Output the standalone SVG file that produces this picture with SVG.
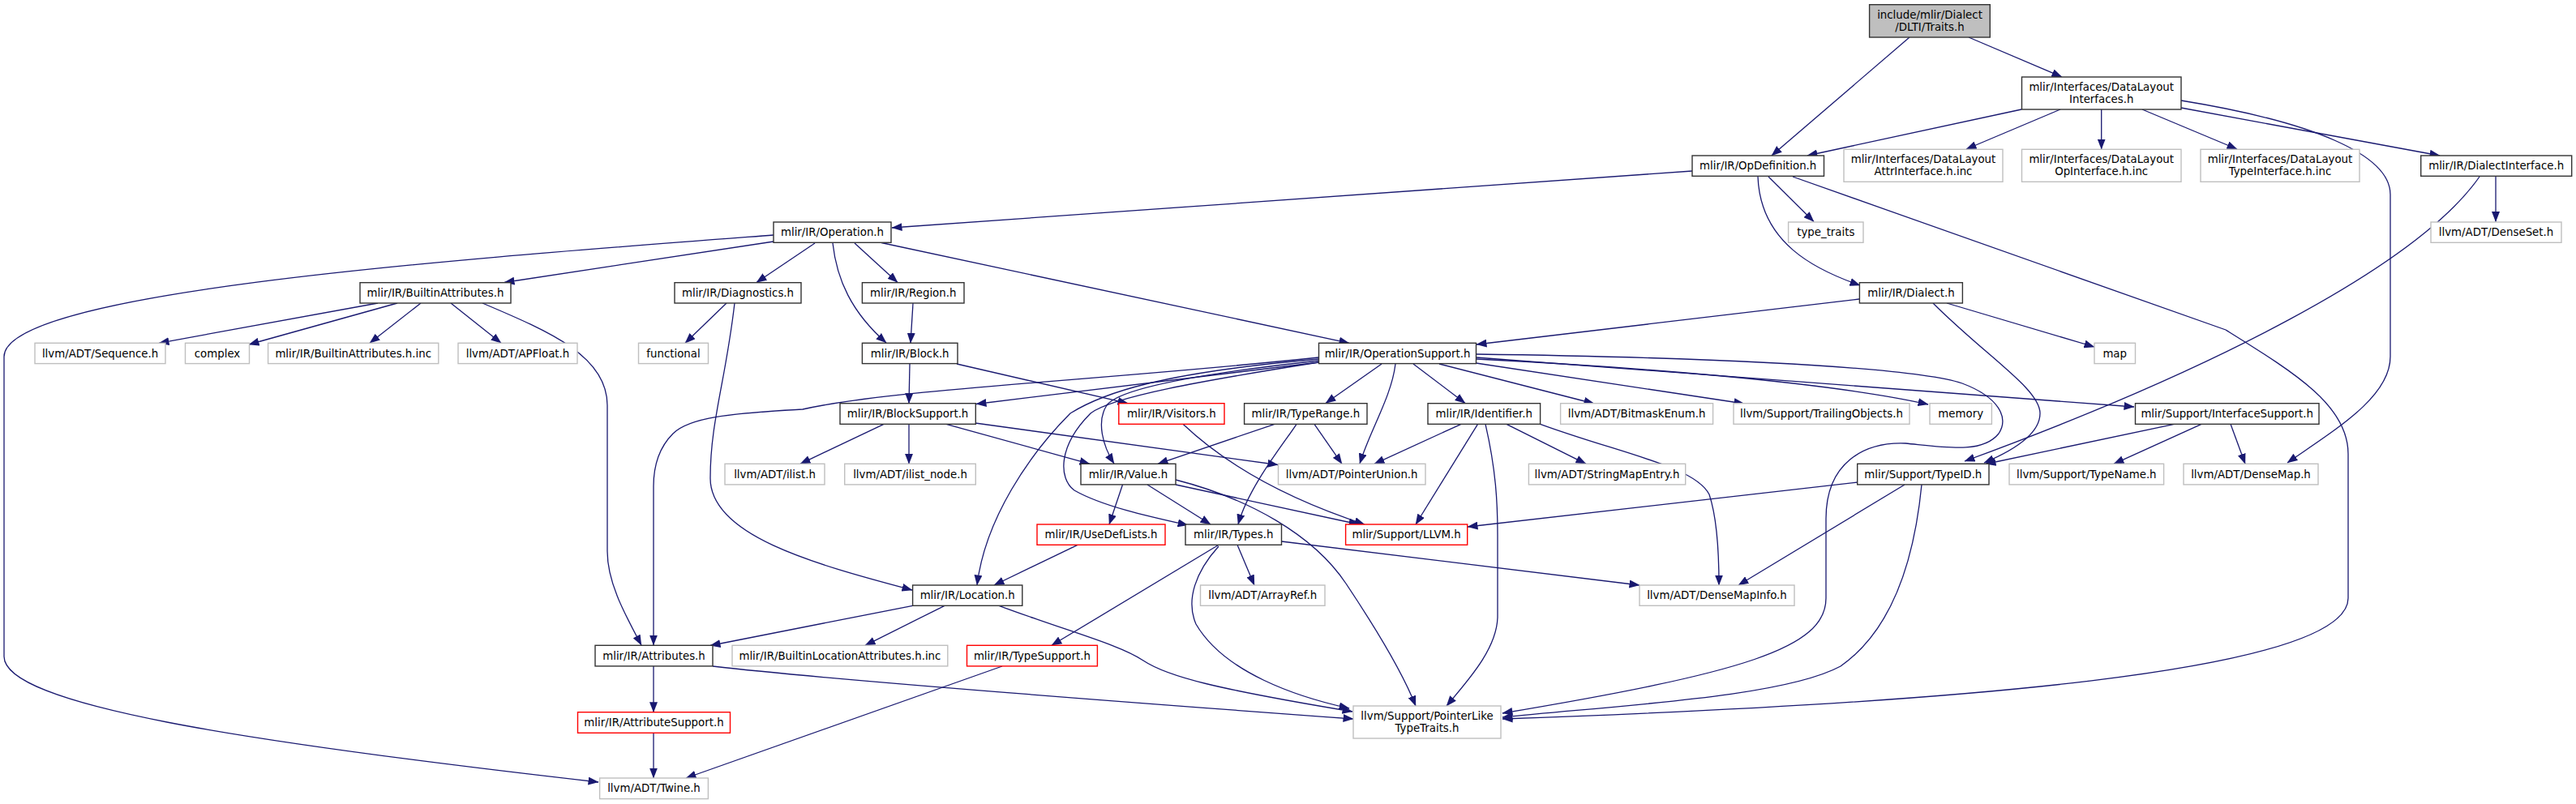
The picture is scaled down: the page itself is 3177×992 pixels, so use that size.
<svg xmlns="http://www.w3.org/2000/svg" width="3177" height="992" viewBox="0 0 3177 992">
<style>
rect{fill:#fff;stroke:#333;stroke-width:1.4}
.g rect{stroke:#bfbfbf}
.r rect{stroke:#ff0000}
.root rect{fill:#bfbfbf}
text{font-family:"DejaVu Sans","Liberation Sans",sans-serif;font-size:13.33px;text-anchor:middle;fill:#000}
#edges path{fill:none;stroke:#191970;stroke-width:1.3;marker-end:url(#ah)}
</style>
<defs>
<marker id="ah" markerUnits="userSpaceOnUse" markerWidth="13" markerHeight="10" viewBox="0 0 13 10" refX="12.5" refY="5" orient="auto"><path d="M0,0 L13,5 L0,10 z" fill="#191970"/></marker>
</defs>
<rect x="0" y="0" width="3177" height="992" style="fill:#fff;stroke:none"/>
<g id="edges">
<path d="M2355,46 L2185,192"/>
<path d="M2428,46 L2543,95"/>
<path d="M2493,135 L2229,192"/>
<path d="M2541,135 L2425,184"/>
<path d="M2591.7,135 L2591.7,184"/>
<path d="M2642,135 L2759,184"/>
<path d="M2690,133 L3009,192"/>
<path d="M2690,124 C2850,150 2948,190 2948,240 L2948,440 C2948,490 2880,530 2821,571"/>
<path d="M3078,217 L3078,273.5"/>
<path d="M3058,218 C2980,330 2720,460 2423,569"/>
<path d="M2087,211 L1100,281"/>
<path d="M2181,218 L2237,273.5"/>
<path d="M2168,218 C2171,300 2239,333 2294,352"/>
<path d="M2211,218 L2745,407 C2830,460 2896,500 2896,560 L2896,738 C2896,830 2400,868 1853,887"/>
<path d="M954,290 C560,320 5,360 5,440 L5,810 C5,870 300,915 738,965"/>
<path d="M954,298 L622,348.5"/>
<path d="M1005,300 L933,348.5"/>
<path d="M1027,300 C1032,345 1050,385 1093,423"/>
<path d="M1054,300 L1107,348.5"/>
<path d="M1087,299.5 L1664,423.3"/>
<path d="M466,374 L196,423.3"/>
<path d="M490,374 L307,425"/>
<path d="M519,374 L456,423.3"/>
<path d="M556,374 L618,423.3"/>
<path d="M595,374 C680,410 749,440 749,500 L749,680 C749,720 772,760 791,796"/>
<path d="M896,374 L845,423.3"/>
<path d="M906,374 C895,470 876,520 876,590 C876,660 1000,695 1125,728"/>
<path d="M1126,374 L1123,423.3"/>
<path d="M1122,449 L1121,497.7"/>
<path d="M1180,449 L1391,497.7"/>
<path d="M2293,369 L1821,425"/>
<path d="M2401,374 L2583,428"/>
<path d="M2384,374 C2450,440 2516,480 2516,510 C2516,535 2485,555 2447,571"/>
<path d="M1626.5,447 L1204,498.5"/>
<path d="M1626.5,441 C1350,470 1100,480 990,505 C900,510 850,515 830,535 C810,555 806,580 806,600 L806,796"/>
<path d="M1626.5,443 C1430,460 1360,485 1320,510 C1270,560 1215,640 1205,722"/>
<path d="M1626.5,445 C1470,462 1380,480 1365,500 C1352,520 1360,550 1374,572"/>
<path d="M1626.5,447 C1480,470 1370,490 1345,510 C1305,550 1305,590 1325,605 C1360,625 1420,638 1465,648"/>
<path d="M1704,449 L1635,497.5"/>
<path d="M1721,449 C1716,490 1690,530 1677,572"/>
<path d="M1743,449 L1807,497.5"/>
<path d="M1775,449 L1966,498"/>
<path d="M1820.5,448 L2151,498"/>
<path d="M1820.5,443 C2000,452 2250,470 2378,499"/>
<path d="M1820.5,441 L2632,502"/>
<path d="M1820.5,437 C2050,440 2350,450 2420,473 C2465,490 2478,515 2465,535 C2445,560 2400,552 2350,547 C2300,545 2252,570 2252,640 L2252,738 C2252,800 2150,830 1853,880"/>
<path d="M1090,523.3 L987,572.3"/>
<path d="M1121,523.3 L1121,572.3"/>
<path d="M1167,523.3 L1344,572.3"/>
<path d="M1203,522 L1576,573.5"/>
<path d="M1459,523.3 Q1540,600 1683,647"/>
<path d="M1572,523.3 L1428,572.3"/>
<path d="M1599,523.3 C1585,545 1540,600 1527,647"/>
<path d="M1621,523.3 L1655,572.3"/>
<path d="M1802,523.3 L1695,572.3"/>
<path d="M1822.5,523.3 L1746,647"/>
<path d="M1858,523.3 L1956,572.3"/>
<path d="M1832,523.3 C1845,580 1847,620 1847,660 L1847,760 C1847,800 1810,840 1784,871"/>
<path d="M1899.6,523.3 C2000,560 2090,575 2108,610 C2118,640 2120,680 2120,722"/>
<path d="M1384.5,598 L1368,647"/>
<path d="M1415,598 L1493,647"/>
<path d="M1450,598 L1676,647"/>
<path d="M1450,592 C1540,615 1620,660 1660,720 C1700,780 1730,830 1746,871"/>
<path d="M1329,672.3 L1226,722"/>
<path d="M1526,672.3 L1547,722"/>
<path d="M1580.5,668 L2022,722"/>
<path d="M1503,672.3 L1297,796.3"/>
<path d="M1503,674 C1475,705 1462,740 1475,770 C1510,830 1600,860 1664,874"/>
<path d="M1125.6,747.3 L876,796.5"/>
<path d="M1165,747.3 L1067,796.3"/>
<path d="M1232,747.3 C1320,780 1380,795 1410,815 C1440,835 1500,850 1668,878"/>
<path d="M806,822 L806,878.7"/>
<path d="M879,822 C1000,836 1300,860 1669,887"/>
<path d="M1236,822 L846,960"/>
<path d="M806,904.3 L806,960"/>
<path d="M2291,595 L1810,650"/>
<path d="M2349,598 L2144,722"/>
<path d="M2370,598 C2360,700 2330,780 2270,822 C2200,860 2000,870 1853,885"/>
<path d="M2681.5,523.3 L2449,572.5"/>
<path d="M2715,523.3 L2607,572.3"/>
<path d="M2751,523.3 L2769,572.3"/>
</g>
<g id="n_traits" class="root"><rect x="2305.6" y="5.7" width="148.7" height="40.3"/><text x="2380" y="22.5">include/mlir/Dialect</text><text x="2380" y="37.5">/DLTI/Traits.h</text></g>
<g id="n_dli"><rect x="2493.5" y="95" width="196.5" height="40"/><text x="2591.7" y="112">mlir/Interfaces/DataLayout</text><text x="2591.7" y="127">Interfaces.h</text></g>
<g id="n_opdef"><rect x="2087" y="192" width="162.5" height="25.3"/><text x="2168.2" y="209.2">mlir/IR/OpDefinition.h</text></g>
<g id="n_attrinc" class="g"><rect x="2274" y="184.3" width="196" height="40"/><text x="2372" y="201.3">mlir/Interfaces/DataLayout</text><text x="2372" y="216.3">AttrInterface.h.inc</text></g>
<g id="n_opinc" class="g"><rect x="2493.5" y="184.3" width="196.5" height="40"/><text x="2591.7" y="201.3">mlir/Interfaces/DataLayout</text><text x="2591.7" y="216.3">OpInterface.h.inc</text></g>
<g id="n_typeinc" class="g"><rect x="2714" y="184.3" width="196" height="40"/><text x="2812" y="201.3">mlir/Interfaces/DataLayout</text><text x="2812" y="216.3">TypeInterface.h.inc</text></g>
<g id="n_dialectif"><rect x="2985.7" y="192" width="186" height="25.3"/><text x="3078.7" y="209.2">mlir/IR/DialectInterface.h</text></g>
<g id="n_operation"><rect x="954" y="274" width="145" height="25.3"/><text x="1026.5" y="291.2">mlir/IR/Operation.h</text></g>
<g id="n_typetraits" class="g"><rect x="2205.6" y="274" width="92.4" height="25.3"/><text x="2251.8" y="291.2">type_traits</text></g>
<g id="n_denseset" class="g"><rect x="2998" y="274" width="161" height="25.3"/><text x="3078.5" y="291.2">llvm/ADT/DenseSet.h</text></g>
<g id="n_builtinattr"><rect x="444" y="348.7" width="186" height="25.3"/><text x="537" y="365.9">mlir/IR/BuiltinAttributes.h</text></g>
<g id="n_diag"><rect x="832" y="348.7" width="156" height="25.3"/><text x="910" y="365.9">mlir/IR/Diagnostics.h</text></g>
<g id="n_region"><rect x="1063.4" y="348.7" width="125.6" height="25.3"/><text x="1126.2" y="365.9">mlir/IR/Region.h</text></g>
<g id="n_dialect"><rect x="2293.4" y="348.7" width="127" height="25.3"/><text x="2357" y="365.9">mlir/IR/Dialect.h</text></g>
<g id="n_sequence" class="g"><rect x="43" y="423.3" width="161" height="25.3"/><text x="123.5" y="440.5">llvm/ADT/Sequence.h</text></g>
<g id="n_complex" class="g"><rect x="228.5" y="423.3" width="79" height="25.3"/><text x="268" y="440.5">complex</text></g>
<g id="n_battrinc" class="g"><rect x="330.6" y="423.3" width="210.2" height="25.3"/><text x="435.7" y="440.5">mlir/IR/BuiltinAttributes.h.inc</text></g>
<g id="n_apfloat" class="g"><rect x="565" y="423.3" width="147" height="25.3"/><text x="638.5" y="440.5">llvm/ADT/APFloat.h</text></g>
<g id="n_functional" class="g"><rect x="787.5" y="423.3" width="86" height="25.3"/><text x="830.5" y="440.5">functional</text></g>
<g id="n_block"><rect x="1063.4" y="423.3" width="117.6" height="25.3"/><text x="1122.2" y="440.5">mlir/IR/Block.h</text></g>
<g id="n_opsupport"><rect x="1626.5" y="423.3" width="194" height="25.3"/><text x="1723.5" y="440.5">mlir/IR/OperationSupport.h</text></g>
<g id="n_map" class="g"><rect x="2583" y="423.3" width="50.5" height="25.3"/><text x="2608.2" y="440.5">map</text></g>
<g id="n_blocksupport"><rect x="1036" y="497.7" width="167.3" height="25.6"/><text x="1119.6" y="515">mlir/IR/BlockSupport.h</text></g>
<g id="n_visitors" class="r"><rect x="1379.8" y="497.7" width="130.2" height="25.6"/><text x="1444.9" y="515">mlir/IR/Visitors.h</text></g>
<g id="n_typerange"><rect x="1534.6" y="497.7" width="151.4" height="25.6"/><text x="1610.3" y="515">mlir/IR/TypeRange.h</text></g>
<g id="n_identifier"><rect x="1761" y="497.7" width="138.6" height="25.6"/><text x="1830.3" y="515">mlir/IR/Identifier.h</text></g>
<g id="n_bitmask" class="g"><rect x="1924.6" y="497.7" width="188" height="25.6"/><text x="2018.6" y="515">llvm/ADT/BitmaskEnum.h</text></g>
<g id="n_trailing" class="g"><rect x="2138" y="497.7" width="217" height="25.6"/><text x="2246.5" y="515">llvm/Support/TrailingObjects.h</text></g>
<g id="n_memory" class="g"><rect x="2380" y="497.7" width="76.4" height="25.6"/><text x="2418.2" y="515">memory</text></g>
<g id="n_ifsupport"><rect x="2633.5" y="497.7" width="226.5" height="25.6"/><text x="2746.7" y="515">mlir/Support/InterfaceSupport.h</text></g>
<g id="n_ilist" class="g"><rect x="894" y="572.3" width="123" height="25.6"/><text x="955.5" y="589.6">llvm/ADT/ilist.h</text></g>
<g id="n_ilistnode" class="g"><rect x="1041.7" y="572.3" width="161.6" height="25.6"/><text x="1122.5" y="589.6">llvm/ADT/ilist_node.h</text></g>
<g id="n_value"><rect x="1333" y="572.3" width="117" height="25.6"/><text x="1391.5" y="589.6">mlir/IR/Value.h</text></g>
<g id="n_pointerunion" class="g"><rect x="1576.5" y="572.3" width="181.5" height="25.6"/><text x="1667.2" y="589.6">llvm/ADT/PointerUnion.h</text></g>
<g id="n_stringmap" class="g"><rect x="1885.4" y="572.3" width="193.3" height="25.6"/><text x="1982" y="589.6">llvm/ADT/StringMapEntry.h</text></g>
<g id="n_typeid"><rect x="2290.7" y="572.3" width="162.3" height="25.6"/><text x="2371.8" y="589.6">mlir/Support/TypeID.h</text></g>
<g id="n_typename" class="g"><rect x="2478" y="572.3" width="190.6" height="25.6"/><text x="2573.3" y="589.6">llvm/Support/TypeName.h</text></g>
<g id="n_densemap" class="g"><rect x="2693" y="572.3" width="166" height="25.6"/><text x="2776" y="589.6">llvm/ADT/DenseMap.h</text></g>
<g id="n_usedef" class="r"><rect x="1279" y="647" width="158" height="25.3"/><text x="1358" y="664.2">mlir/IR/UseDefLists.h</text></g>
<g id="n_types"><rect x="1462" y="647" width="118.5" height="25.3"/><text x="1521.2" y="664.2">mlir/IR/Types.h</text></g>
<g id="n_llvm" class="r"><rect x="1659.6" y="647" width="150.1" height="25.3"/><text x="1734.6" y="664.2">mlir/Support/LLVM.h</text></g>
<g id="n_location"><rect x="1125.6" y="722" width="135.2" height="25.3"/><text x="1193.2" y="739.2">mlir/IR/Location.h</text></g>
<g id="n_arrayref" class="g"><rect x="1480.5" y="722" width="153.5" height="25.3"/><text x="1557.2" y="739.2">llvm/ADT/ArrayRef.h</text></g>
<g id="n_densemapinfo" class="g"><rect x="2022" y="722" width="191" height="25.3"/><text x="2117.5" y="739.2">llvm/ADT/DenseMapInfo.h</text></g>
<g id="n_attributes"><rect x="734" y="796.3" width="145" height="25.6"/><text x="806.5" y="813.6">mlir/IR/Attributes.h</text></g>
<g id="n_bla" class="g"><rect x="903" y="796.3" width="265.8" height="25.6"/><text x="1035.9" y="813.6">mlir/IR/BuiltinLocationAttributes.h.inc</text></g>
<g id="n_typesupport" class="r"><rect x="1192.5" y="796.3" width="160.9" height="25.6"/><text x="1272.9" y="813.6">mlir/IR/TypeSupport.h</text></g>
<g id="n_attrsupport" class="r"><rect x="712.5" y="878.7" width="188" height="25.6"/><text x="806.5" y="896">mlir/IR/AttributeSupport.h</text></g>
<g id="n_pointerlike" class="g"><rect x="1669" y="871" width="182" height="40"/><text x="1760" y="888">llvm/Support/PointerLike</text><text x="1760" y="903">TypeTraits.h</text></g>
<g id="n_twine" class="g"><rect x="739.6" y="960" width="133.8" height="25.6"/><text x="806.5" y="977.3">llvm/ADT/Twine.h</text></g>
</svg>
